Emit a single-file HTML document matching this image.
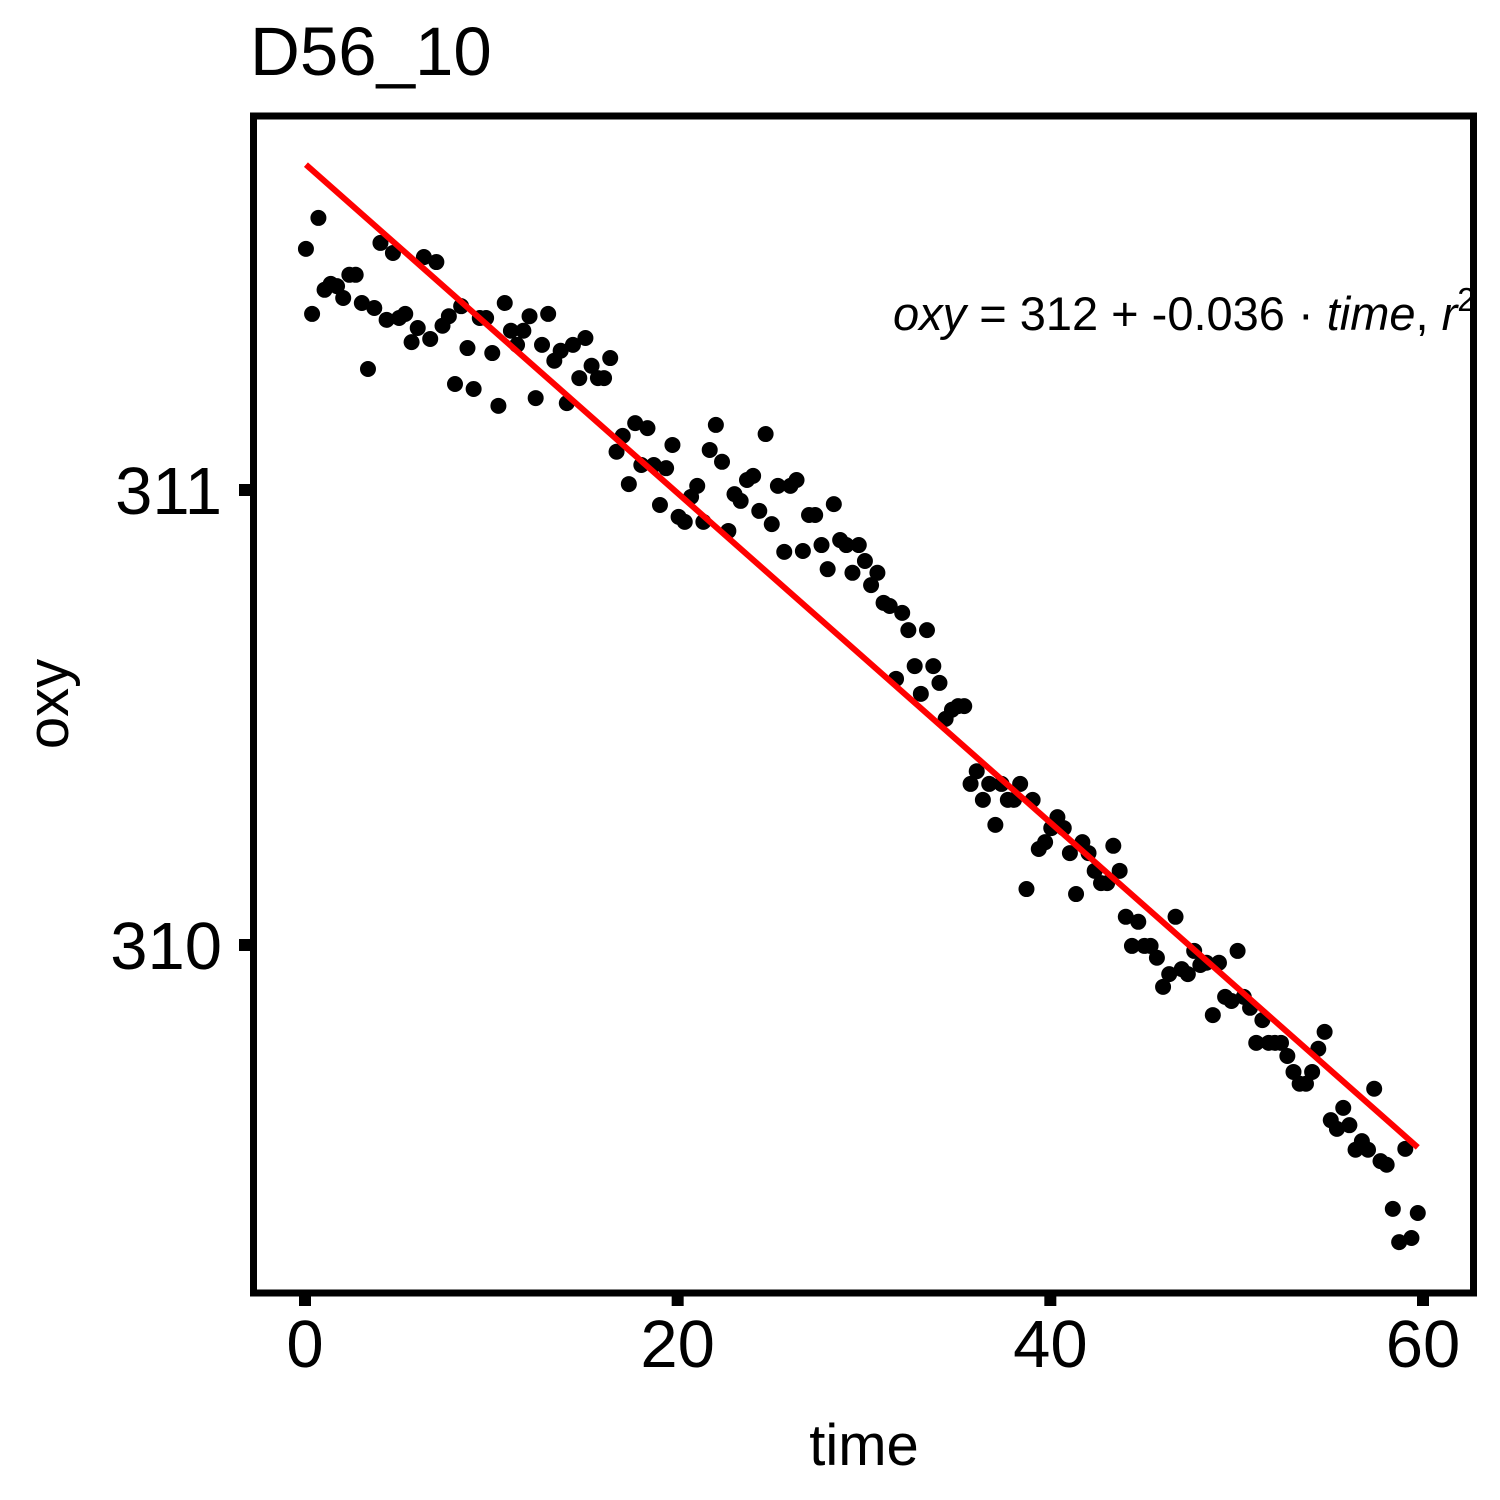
<!DOCTYPE html>
<html><head><meta charset="utf-8"><style>
html,body{margin:0;padding:0;background:#fff;}
svg{display:block;font-family:"Liberation Sans",Arial,sans-serif;}
</style></head><body>
<svg id="chart" width="1500" height="1500" viewBox="0 0 1500 1500" xmlns="http://www.w3.org/2000/svg">
<defs><clipPath id="clip"><rect x="254" y="116" width="1220" height="1177"/></clipPath></defs>
<rect width="1500" height="1500" fill="#fff"/>
<text x="250" y="75" font-size="69">D56_10</text>
<g id="marks" clip-path="url(#clip)"></g>
<g clip-path="url(#clip)">
<text x="893" y="330" font-size="47" xml:space="preserve"><tspan font-style="italic">oxy</tspan> = 312 + -0.036 · <tspan font-style="italic">time</tspan>, <tspan font-style="italic">r</tspan><tspan dy="-19" font-size="33">2</tspan></text>
</g>
<rect x="253.5" y="116" width="1220" height="1177" fill="none" stroke="#000" stroke-width="7"/>
<g id="axes"></g>
<text x="864" y="1465" font-size="58" text-anchor="middle">time</text>
<text transform="translate(68,704) rotate(-90)" font-size="58" text-anchor="middle">oxy</text>
</svg>
<script>
const timeVals=[0.05,0.38,0.72,1.05,1.38,1.72,2.05,2.38,2.72,3.05,3.38,3.72,4.05,4.38,4.72,5.05,5.38,5.72,6.05,6.38,6.72,7.05,7.38,7.72,8.05,8.38,8.72,9.05,9.38,9.72,10.05,10.38,10.72,11.05,11.38,11.72,12.05,12.38,12.72,13.05,13.38,13.72,14.05,14.38,14.72,15.05,15.38,15.72,16.05,16.38,16.72,17.05,17.38,17.72,18.05,18.38,18.72,19.05,19.38,19.72,20.05,20.38,20.72,21.05,21.38,21.72,22.05,22.38,22.72,23.05,23.38,23.72,24.05,24.38,24.72,25.05,25.38,25.72,26.05,26.38,26.72,27.05,27.38,27.72,28.05,28.38,28.72,29.05,29.38,29.72,30.05,30.38,30.72,31.05,31.38,31.72,32.05,32.38,32.72,33.05,33.38,33.72,34.05,34.38,34.72,35.05,35.38,35.72,36.05,36.38,36.72,37.05,37.38,37.72,38.05,38.38,38.72,39.05,39.38,39.72,40.05,40.38,40.72,41.05,41.38,41.72,42.05,42.38,42.72,43.05,43.38,43.72,44.05,44.38,44.72,45.05,45.38,45.72,46.05,46.38,46.72,47.05,47.38,47.72,48.05,48.38,48.72,49.05,49.38,49.72,50.05,50.38,50.72,51.05,51.38,51.72,52.05,52.38,52.72,53.05,53.38,53.72,54.05,54.38,54.72,55.05,55.38,55.72,56.05,56.38,56.72,57.05,57.38,57.72,58.05,58.38,58.72,59.05,59.38,59.72];
const oxyVals=[311.53,311.387,311.598,311.44,311.453,311.448,311.422,311.473,311.473,311.411,311.266,311.40,311.543,311.374,311.521,311.378,311.387,311.325,311.356,311.512,311.332,311.501,311.361,311.382,311.233,311.404,311.312,311.222,311.378,311.378,311.301,311.185,311.411,311.35,311.319,311.35,311.382,311.202,311.319,311.387,311.284,311.306,311.191,311.319,311.246,311.334,311.273,311.246,311.246,311.29,311.084,311.119,311.013,311.147,311.055,311.136,311.055,310.967,311.048,311.099,310.941,310.93,310.985,311.009,310.93,311.088,311.143,311.062,310.91,310.991,310.976,311.022,311.031,310.954,311.123,310.925,311.009,310.864,311.009,311.022,310.866,310.945,310.945,310.879,310.826,310.969,310.89,310.879,310.818,310.879,310.844,310.791,310.818,310.752,310.745,310.585,310.73,310.692,310.613,310.552,310.692,310.613,310.576,310.497,310.517,310.525,310.525,310.354,310.382,310.319,310.354,310.264,310.354,310.319,310.319,310.354,310.123,310.319,310.211,310.226,310.257,310.281,310.257,310.202,310.112,310.226,310.202,310.163,310.136,310.136,310.218,310.163,310.062,309.998,310.051,309.998,309.998,309.972,309.908,309.936,310.062,309.947,309.936,309.987,309.956,309.961,309.846,309.961,309.886,309.877,309.987,309.886,309.862,309.785,309.835,309.785,309.785,309.785,309.756,309.721,309.695,309.695,309.721,309.772,309.809,309.615,309.596,309.642,309.604,309.55,309.569,309.55,309.684,309.525,309.517,309.42,309.347,309.552,309.356,309.411];
const fitIntercept=[311.717];
const fitSlope=[-0.0362];
const xTicks=[0,20,40,60];
const yTicks=[310,311];

const NS="http://www.w3.org/2000/svg";
function xs(t){return 305+(t-0)*(1423-305)/60;}
function ys(v){return 945-(v-310)*455;}
const marks=document.getElementById('marks');
const axes=document.getElementById('axes');
function mk(tag,attrs,parent){const e=document.createElementNS(NS,tag);for(const k in attrs)e.setAttribute(k,attrs[k]);parent.appendChild(e);return e;}

const tMin=Math.min(...timeVals),tMax=Math.max(...timeVals);
for(let i=0;i<timeVals.length;i++){
  const c=mk('circle',{cx:xs(timeVals[i]),cy:ys(oxyVals[i]),r:8,fill:'#000'},marks);
  
  
}
const ln=mk('line',{x1:xs(tMin),y1:ys(fitIntercept[0]+fitSlope[0]*tMin),x2:xs(tMax),y2:ys(fitIntercept[0]+fitSlope[0]*tMax),stroke:'#ff0000','stroke-width':6},marks);



xTicks.forEach(t=>{
  const tk=mk('line',{x1:xs(t),x2:xs(t),y1:1293,y2:1306,stroke:'#000','stroke-width':12},axes);
  
  
  const lb=mk('text',{x:xs(t),y:1367,'font-size':67,'text-anchor':'middle'},axes);
  lb.textContent=t;
  
  
});
yTicks.forEach(v=>{
  const tk=mk('line',{x1:239,x2:254,y1:ys(v),y2:ys(v),stroke:'#000','stroke-width':12},axes);
  
  
  const lb=mk('text',{x:222,y:ys(v)+24,'font-size':67,'text-anchor':'end'},axes);
  lb.textContent=v;
  
  
});
</script>
</body></html>
